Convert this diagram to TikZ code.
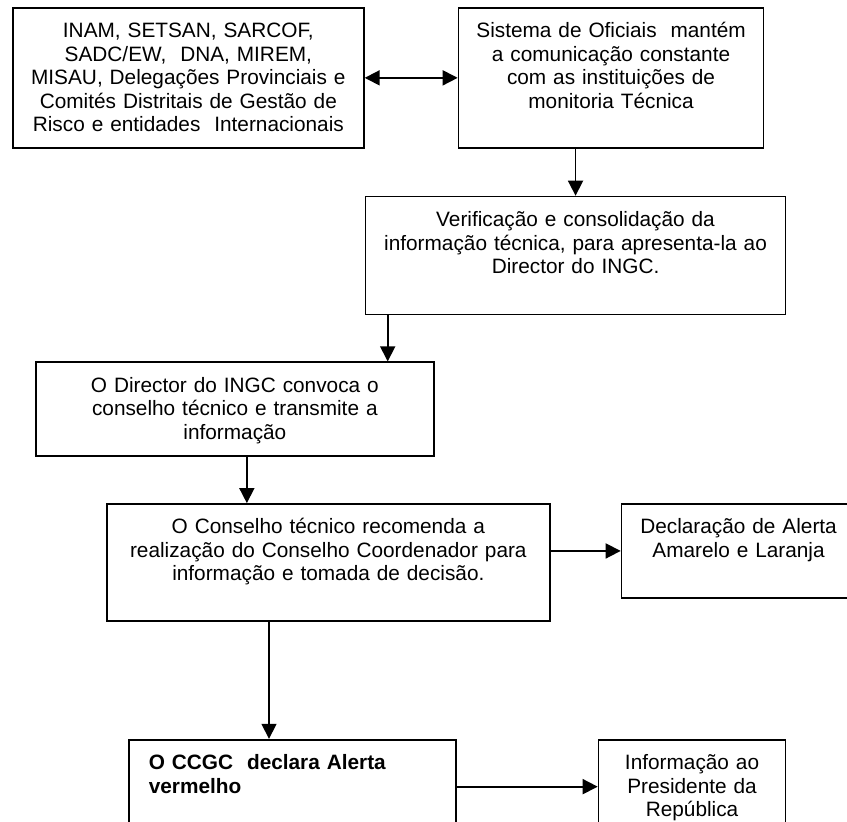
\documentclass[tikz,border=0pt]{standalone}
\usepackage{fontspec}
\setmainfont{Liberation Sans}
\usetikzlibrary{positioning,arrows.meta}

\begin{document}
\begin{tikzpicture}[
  node distance = 46pt and 70pt,
  box/.style    = {draw, line width=1.7pt, inner xsep=6pt, inner ysep=8pt,
                   text height=22pt, align=center,
                   font=\fontsize{20.8}{23.5}\selectfont},
  arr/.style    = {-{Triangle[length=15pt, width=15pt]}, line width=1.7pt},
  dblarr/.style = {{Triangle[length=15pt, width=15pt]}-{Triangle[length=15pt, width=15pt]},
                   line width=1.7pt},
]
\useasboundingbox (0,0) rectangle (847pt,-822pt);
\clip (0,0) rectangle (847pt,-822pt);
\node[box, text width=339pt, text depth=102pt, anchor=north west] (inam) at (12pt,-7pt)
     {INAM, SETSAN, SARCOF,\\ SADC/EW,~ DNA, MIREM,\\ MISAU, Delegações Provinciais e\\
      Comités Distritais de Gestão de\\ Risco e entidades~ Internacionais};
\node[box, text width=293pt, text depth=102pt, right=93pt of inam] (oficiais)
     {Sistema de Oficiais~ mantém\\ a comunicação constante\\ com as instituições de\\
      monitoria Técnica};
\node[box, text width=408pt, text depth=80pt, below right=47pt and 0pt of inam.south east] (verif)
     {Verificação e consolidação da\\ informação técnica, para apresenta-la ao\\
      Director do INGC.};
\node[box, text width=386pt, text depth=56pt, below=46pt of verif.south west,
      anchor=north east, xshift=70pt] (director)
     {O Director do INGC convoca o\\ conselho técnico e transmite a\\ informação};
\node[box, text width=431pt, text depth=79pt, below right=46pt and 71pt of director.south west] (conselho)
     {O Conselho técnico recomenda a\\ realização do Conselho Coordenador para\\
      informação e tomada de decisão.};
\node[box, text width=222pt, text depth=56pt, right=70pt of conselho.north east,
      anchor=north west] (declar)
     {Declaração de Alerta\\ Amarelo e Laranja};
\node[box, text width=287pt, inner xsep=20pt, text depth=56pt, align=left,
      font=\fontsize{20.8}{23.5}\selectfont\bfseries,
      below right=117pt and 22pt of conselho.south west] (ccgc)
     {O CCGC~ declara Alerta\\ vermelho};
\node[box, text width=175pt, text depth=56pt, right=141pt of ccgc] (presid)
     {Informação ao\\ Presidente da\\ República};
\draw[dblarr] (inam) -- (oficiais);
\draw[arr] (oficiais.south -| verif.north) -- (verif.north);
\draw[arr] ([xshift=-47pt]director.north east |- verif.south) -- ([xshift=-47pt]director.north east);
\draw[arr] ([xshift=12pt]director.south) -- ([xshift=12pt]director.south |- conselho.north);
\draw[arr] (conselho.east |- declar.west) -- (declar.west);
\draw[arr] ([xshift=141pt]ccgc.north west |- conselho.south) -- ([xshift=141pt]ccgc.north west);
\draw[arr] (ccgc) -- (presid);
\end{tikzpicture}
\end{document}
